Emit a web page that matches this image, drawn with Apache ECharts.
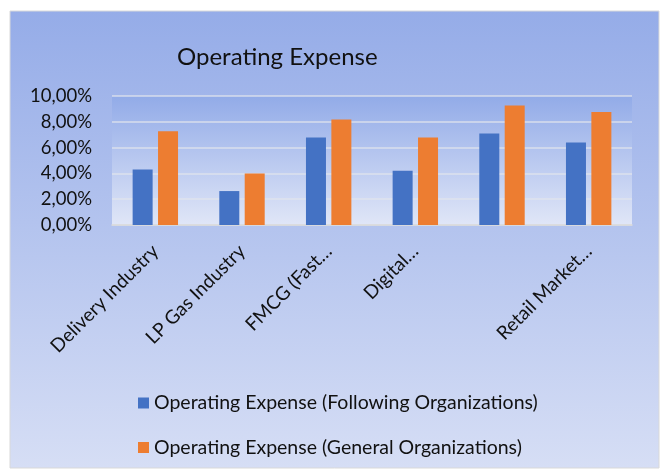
<!DOCTYPE html>
<html>
<head>
<meta charset="utf-8">
<script src="https://cdn.jsdelivr.net/npm/echarts@6/dist/echarts.min.js"></script>
<style>
  html, body { margin: 0; padding: 0; background: #fff; }
  #chart { width: 661px; height: 471px; }
</style>
</head>
<body>
<div id="chart"></div>
<script>
// 数据
const categories = ['Delivery Industry', 'LP Gas Industry', 'FMCG (Fast…', 'Digital…', '', 'Retail Market…'];
const following = [4.31, 2.63, 6.78, 4.20, 7.09, 6.39];   // Following Organizations
const general   = [7.27, 4.00, 8.17, 6.78, 9.26, 8.76];   // General Organizations
const seriesNames = ['Operating Expense (Following Organizations)', 'Operating Expense (General Organizations)'];

const FONT = 'Lato, "Open Sans", sans-serif';
const chart = echarts.init(document.getElementById('chart'), null, { renderer: 'canvas' });

const pct = v => v.toFixed(2).replace('.', ',') + '%';

chart.setOption({
  animation: false,
  textStyle: { fontFamily: FONT, color: '#111' },
  graphic: [{
    type: 'rect', z: -10, silent: true,
    shape: { x: 10, y: 11, width: 649, height: 457 },
    style: {
      fill: new echarts.graphic.LinearGradient(0, 0, 0, 1, [
        { offset: 0, color: '#95ace8' },
        { offset: 1, color: '#d6def5' },
      ]),
      stroke: '#d9d9d9', lineWidth: 1,
    },
  }],
  title: {
    text: 'Operating Expense', left: 172, top: 40,
    textStyle: { fontFamily: FONT, fontSize: 24, fontWeight: 'normal', color: '#111' },
  },
  grid: {
    left: 112, right: 29, top: 96, bottom: 246,
    show: true, borderWidth: 0,
    backgroundColor: new echarts.graphic.LinearGradient(0, 0, 0, 1, [
      { offset: 0, color: '#92abe8' },
      { offset: 1, color: '#e0e6f7' },
    ]),
  },
  legend: {
    orient: 'vertical', left: 133, top: 388, itemGap: 24.5,
    itemWidth: 11, itemHeight: 11, icon: 'rect',
    textStyle: { fontFamily: FONT, fontSize: 19.5, color: '#111' },
    data: seriesNames,
  },
  xAxis: {
    type: 'category', data: categories,
    axisLine: { lineStyle: { color: '#d9d9d9', width: 1.5 } },
    axisTick: { show: false },
    axisLabel: { interval: 0, rotate: 45, fontSize: 19, color: '#111', margin: 23, padding: [28, 0, 0, 0] },
  },
  yAxis: {
    type: 'value', min: 0, max: 10, interval: 2,
    axisLine: { show: false }, axisTick: { show: false },
    axisLabel: { formatter: pct, fontSize: 18.5, color: '#111', margin: 20 },
    splitLine: { lineStyle: { color: 'rgba(225,228,235,0.85)', width: 1.5 } },
  },
  series: [
    { name: seriesNames[0], type: 'bar', data: following, barWidth: 20, barGap: '27%',
      itemStyle: { color: '#4472c4' } },
    { name: seriesNames[1], type: 'bar', data: general, barWidth: 20,
      itemStyle: { color: '#ed7d31' } },
  ],
});
</script>
</body>
</html>
